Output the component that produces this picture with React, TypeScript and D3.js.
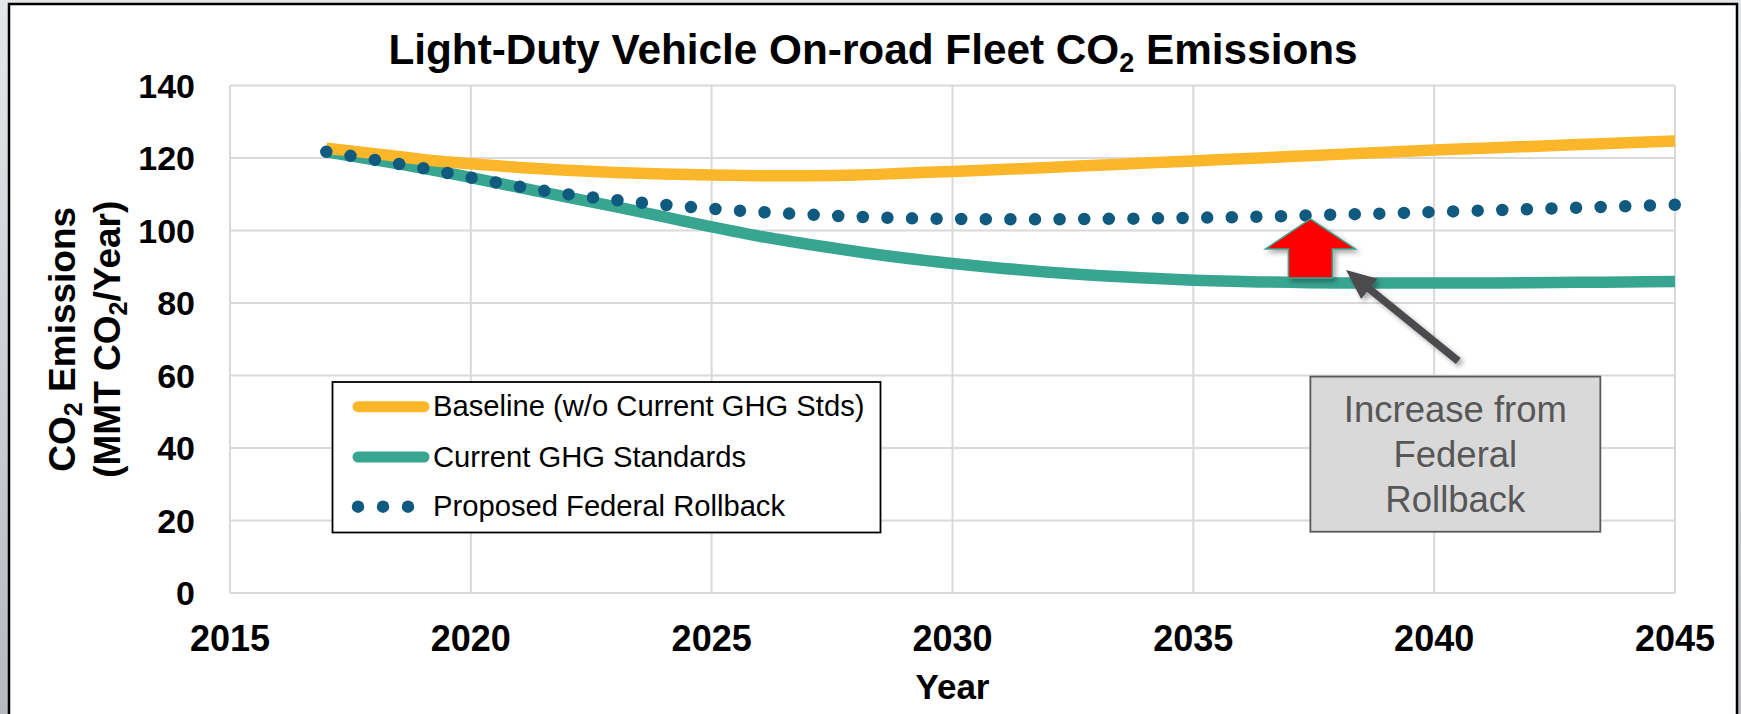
import { useEffect, useRef } from 'react';
import * as d3 from 'd3';

// data (MMT CO2 / year)
const years = [
  2017, 2018, 2019, 2020, 2021, 2022, 2023, 2024, 2025, 2026,
  2027, 2028, 2029, 2030, 2031, 2032, 2033, 2034, 2035, 2036,
  2037, 2038, 2039, 2040, 2041, 2042, 2043, 2044, 2045,
];
const baseline = [
  122.7, 121.2, 119.6, 118.4, 117.4, 116.6, 116.0, 115.6, 115.3, 115.1,
  115.1, 115.3, 115.8, 116.3, 116.8, 117.4, 118.0, 118.6, 119.2, 119.8,
  120.4, 121.0, 121.6, 122.2, 122.7, 123.2, 123.7, 124.2, 124.7,
];
const currentStds = [
  121.7, 119.5, 117.2, 114.6, 111.9, 109.2, 106.6, 103.8, 101.0, 98.4,
  96.2, 94.2, 92.4, 90.9, 89.6, 88.5, 87.6, 86.9, 86.3, 85.9,
  85.7, 85.5, 85.5, 85.5, 85.5, 85.6, 85.7, 85.8, 85.9,
];
const rollback = [
  121.7, 119.5, 117.2, 114.6, 112.1, 110.0, 108.4, 107.1, 106.0, 105.1,
  104.4, 103.8, 103.4, 103.2, 103.1, 103.1, 103.2, 103.3, 103.5, 103.7,
  104.0, 104.4, 104.7, 105.1, 105.5, 105.9, 106.3, 106.7, 107.1,
];

const xTicks = [2015, 2020, 2025, 2030, 2035, 2040, 2045];
const yTicks = [0, 20, 40, 60, 80, 100, 120, 140];
const legendLabels = ['Baseline (w/o Current GHG Stds)', 'Current GHG Standards', 'Proposed Federal Rollback'];
const calloutLines = ['Increase from', 'Federal', 'Rollback'];

// annotation anchors in data units
const upArrow = { year: 2037.43, from: 86.9, headBase: 94.9, to: 103.2 };
const pointer = { fromYear: 2040.5, fromValue: 64.0, toYear: 2038.17, toValue: 89.1 };
const callout = { x0: 2037.43, x1: 2043.45, y0: 59.7, y1: 16.9 };

const W = 1741;
const H = 714;
const FONT = '"Liberation Sans", Arial, Helvetica, sans-serif';
const ORANGE = '#FCB629';
const TEAL = '#38A591';
const NAVY = '#0F5A7E';

export default function App() {
  const svgRef = useRef<SVGSVGElement>(null);

  useEffect(() => {
    if (!svgRef.current) return;
    const svg = d3.select(svgRef.current);
    svg.selectAll('*').remove();

    const plot = { left: 230, right: 1675, top: 85.5, bottom: 593 };

    const x = d3.scaleLinear().domain([2015, 2045]).range([plot.left, plot.right]);
    const y = d3.scaleLinear().domain([0, 140]).range([plot.bottom, plot.top]);

    const defs = svg.append('defs');
    const grad = defs.append('linearGradient')
      .attr('id', 'bg').attr('x1', 0).attr('y1', 0).attr('x2', 0).attr('y2', 1);
    grad.append('stop').attr('offset', '0%').attr('stop-color', '#e4e7ea');
    grad.append('stop').attr('offset', '100%').attr('stop-color', '#b7b9bf');

    defs.append('filter')
      .attr('id', 'shadow')
      .attr('x', '-30%').attr('y', '-30%').attr('width', '160%').attr('height', '160%')
      .append('feDropShadow')
      .attr('dx', 3).attr('dy', 3).attr('stdDeviation', 2.5)
      .attr('flood-color', '#000').attr('flood-opacity', 0.35);

    // 背景 + 白色卡片
    svg.append('rect').attr('width', W).attr('height', H).attr('fill', 'url(#bg)');
    svg.append('rect')
      .attr('x', 9).attr('y', 4)
      .attr('width', 1728).attr('height', H + 20)
      .attr('fill', '#fff')
      .attr('stroke', '#000')
      .attr('stroke-width', 2.5);

    // title
    const title = svg.append('text')
      .attr('x', 873).attr('y', 64)
      .attr('text-anchor', 'middle')
      .attr('font-family', FONT).attr('font-weight', 700).attr('font-size', 42.3)
      .attr('fill', '#000');
    title.append('tspan').text('Light-Duty Vehicle On-road Fleet CO');
    title.append('tspan').attr('font-size', 27).attr('dy', 8).text('2');
    title.append('tspan').attr('dy', -8).text(' Emissions');

    // grid
    const grid = svg.append('g').attr('stroke', '#d9d9d9').attr('stroke-width', 2);
    yTicks.forEach((t) => {
      grid.append('line')
        .attr('x1', plot.left).attr('x2', plot.right)
        .attr('y1', y(t)).attr('y2', y(t));
    });
    xTicks.forEach((t) => {
      grid.append('line')
        .attr('x1', x(t)).attr('x2', x(t))
        .attr('y1', plot.top).attr('y2', plot.bottom);
    });

    // tick labels
    svg.append('g')
      .selectAll('text')
      .data(yTicks)
      .enter()
      .append('text')
      .attr('x', 195)
      .attr('y', (d) => y(d))
      .attr('dy', '0.36em')
      .attr('text-anchor', 'end')
      .attr('font-family', FONT).attr('font-weight', 700).attr('font-size', 34)
      .text((d) => d);

    svg.append('g')
      .selectAll('text')
      .data(xTicks)
      .enter()
      .append('text')
      .attr('x', (d) => x(d))
      .attr('y', 651)
      .attr('text-anchor', 'middle')
      .attr('font-family', FONT).attr('font-weight', 700).attr('font-size', 36)
      .text((d) => d);

    // axis titles
    svg.append('text')
      .attr('x', (plot.left + plot.right) / 2).attr('y', 699)
      .attr('text-anchor', 'middle')
      .attr('font-family', FONT).attr('font-weight', 700).attr('font-size', 35)
      .text('Year');

    const yMid = (plot.top + plot.bottom) / 2;
    const yt1 = svg.append('text')
      .attr('transform', `translate(75,${yMid}) rotate(-90)`)
      .attr('text-anchor', 'middle')
      .attr('font-family', FONT).attr('font-weight', 700).attr('font-size', 37);
    yt1.append('tspan').text('CO');
    yt1.append('tspan').attr('font-size', 25).attr('dy', 7).text('2');
    yt1.append('tspan').attr('dy', -7).text(' Emissions');

    const yt2 = svg.append('text')
      .attr('transform', `translate(120,${yMid}) rotate(-90)`)
      .attr('text-anchor', 'middle')
      .attr('font-family', FONT).attr('font-weight', 700).attr('font-size', 37);
    yt2.append('tspan').text('(MMT CO');
    yt2.append('tspan').attr('font-size', 25).attr('dy', 7).text('2');
    yt2.append('tspan').attr('dy', -7).text('/Year)');

    // series
    const line = d3.line<number>()
      .x((_, i) => x(years[i]))
      .y((d) => y(d))
      .curve(d3.curveCatmullRom.alpha(0.5));

    svg.append('path')
      .datum(currentStds)
      .attr('fill', 'none')
      .attr('stroke', TEAL)
      .attr('stroke-width', 11.5)
      .attr('d', line);

    svg.append('path')
      .datum(baseline)
      .attr('fill', 'none')
      .attr('stroke', ORANGE)
      .attr('stroke-width', 11.5)
      .attr('d', line);

    svg.append('path')
      .datum(rollback)
      .attr('fill', 'none')
      .attr('stroke', NAVY)
      .attr('stroke-width', 12.5)
      .attr('stroke-linecap', 'round')
      .attr('stroke-dasharray', '0 24.6')
      .attr('d', line);

    // legend
    const lg = svg.append('g');
    lg.append('rect')
      .attr('x', 332.5).attr('y', 382)
      .attr('width', 548).attr('height', 150.5)
      .attr('fill', '#fff')
      .attr('stroke', '#000')
      .attr('stroke-width', 1.8);

    const rowY = [406.7, 457, 506.7];
    const colors = [ORANGE, TEAL, NAVY];
    legendLabels.forEach((label, i) => {
      if (i < 2) {
        lg.append('line')
          .attr('x1', 358).attr('x2', 424)
          .attr('y1', rowY[i]).attr('y2', rowY[i])
          .attr('stroke', colors[i])
          .attr('stroke-width', 11)
          .attr('stroke-linecap', 'round');
      } else {
        [358, 383, 408].forEach((cx) => {
          lg.append('circle')
            .attr('cx', cx).attr('cy', rowY[i]).attr('r', 6.2)
            .attr('fill', colors[i]);
        });
      }
      lg.append('text')
        .attr('x', 433).attr('y', rowY[i] + 9.5)
        .attr('font-family', FONT).attr('font-size', 29.2)
        .attr('fill', '#000')
        .text(label);
    });

    // red block arrow
    const ax = x(upArrow.year);
    const headHalf = 45;
    const shaftHalf = 22;
    const arrowPts: [number, number][] = [
      [ax, y(upArrow.to)],
      [ax + headHalf, y(upArrow.headBase)],
      [ax + shaftHalf, y(upArrow.headBase)],
      [ax + shaftHalf, y(upArrow.from)],
      [ax - shaftHalf, y(upArrow.from)],
      [ax - shaftHalf, y(upArrow.headBase)],
      [ax - headHalf, y(upArrow.headBase)],
    ];
    svg.append('polygon')
      .attr('points', arrowPts.map((p) => p.join(',')).join(' '))
      .attr('fill', '#ff0000')
      .attr('stroke', TEAL)
      .attr('stroke-width', 1.5)
      .attr('stroke-linejoin', 'miter')
      .attr('filter', 'url(#shadow)');

    // grey pointer arrow
    const px0 = x(pointer.fromYear);
    const py0 = y(pointer.fromValue);
    const px1 = x(pointer.toYear);
    const py1 = y(pointer.toValue);
    const ang = Math.atan2(py1 - py0, px1 - px0);
    const headLen = 30;
    const headW = 13;
    const bx = px1 - headLen * Math.cos(ang);
    const by = py1 - headLen * Math.sin(ang);
    const pg = svg.append('g').attr('filter', 'url(#shadow)');
    pg.append('line')
      .attr('x1', px0).attr('y1', py0)
      .attr('x2', bx + 2 * Math.cos(ang)).attr('y2', by + 2 * Math.sin(ang))
      .attr('stroke', '#4b4b4e')
      .attr('stroke-width', 7.5);
    pg.append('polygon')
      .attr('points', [
        [px1, py1],
        [bx - headW * Math.sin(ang), by + headW * Math.cos(ang)],
        [bx + headW * Math.sin(ang), by - headW * Math.cos(ang)],
      ].map((p) => p.join(',')).join(' '))
      .attr('fill', '#4b4b4e');

    // callout box
    const cx0 = x(callout.x0);
    const cx1 = x(callout.x1);
    const cy0 = y(callout.y0);
    const cy1 = y(callout.y1);
    svg.append('rect')
      .attr('x', cx0).attr('y', cy0)
      .attr('width', cx1 - cx0).attr('height', cy1 - cy0)
      .attr('fill', '#d9d9d9')
      .attr('stroke', '#595959')
      .attr('stroke-width', 1.8);
    calloutLines.forEach((t, i) => {
      svg.append('text')
        .attr('x', (cx0 + cx1) / 2)
        .attr('y', 422 + i * 44.8)
        .attr('text-anchor', 'middle')
        .attr('font-family', FONT).attr('font-size', 36.5)
        .attr('fill', '#575757')
        .text(t);
    });
  }, []);

  return (
    <div style={{ position: 'fixed', left: 0, top: 0, width: W, height: H, overflow: 'hidden' }}>
      <svg ref={svgRef} width={W} height={H} style={{ display: 'block' }} />
    </div>
  );
}
